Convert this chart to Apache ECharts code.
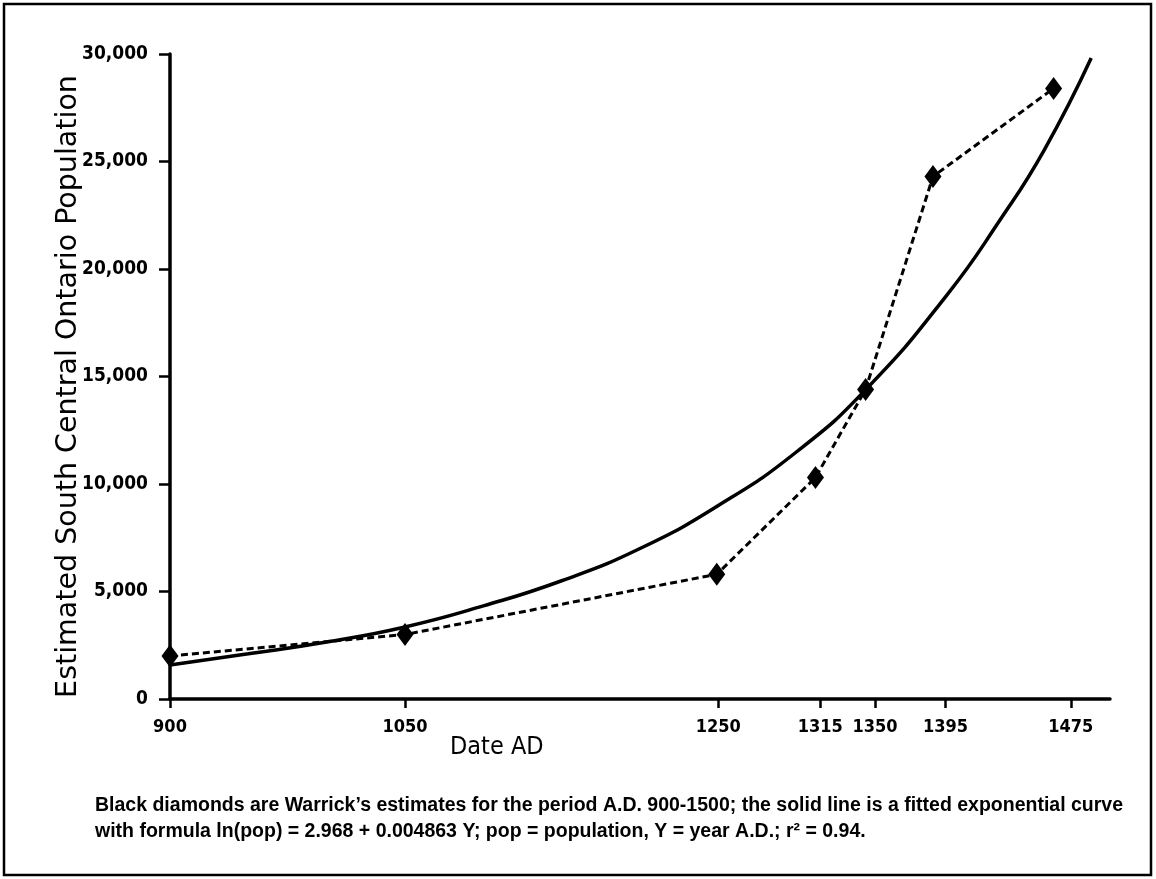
<!DOCTYPE html>
<html><head><meta charset="utf-8">
<script src="https://cdn.jsdelivr.net/npm/echarts@6/dist/echarts.min.js"></script>
<style>html,body{margin:0;padding:0;background:#fff}#c{width:1156px;height:879px}</style>
</head><body><div id="c"></div>
<script>
// Warrick's estimates (black diamonds)
const estimateYears = [900, 1050, 1249, 1312, 1344, 1387, 1464];
const estimatePop = [2000, 3000, 5800, 10300, 14400, 24300, 28400];
// Fitted exponential curve
const fitYears = [900, 950, 1000, 1050, 1100, 1150, 1200, 1250, 1300, 1345, 1396, 1430, 1458, 1488];
const fitPop = [1580, 2100, 2650, 3350, 4330, 5500, 7000, 9000, 11500, 14460, 18800, 22300, 25530, 29810];
// Axis ticks
const xTickValues = [900, 1050, 1250, 1315, 1350, 1395, 1475];
const xMin = 900, xMax = 1500;
const yMin = 0, yMax = 30000, yInterval = 5000;
const xTitle = 'Date AD';
const yTitle = 'Estimated South Central Ontario Population';
const captionLines = [
  'Black diamonds are Warrick\u2019s estimates for the period A.D. 900-1500; the solid line is a fitted exponential curve',
  'with formula ln(pop) = 2.968 + 0.004863 Y; pop = population, Y = year A.D.; r\u00B2 = 0.94.'
];

const condensed = '"DejaVu Sans Condensed", "Liberation Sans", sans-serif';
const chart = echarts.init(document.getElementById('c'), null, {renderer: 'canvas'});
const pair = (xs, ys) => xs.map((x, i) => [x, ys[i]]);
chart.setOption({
  animation: false,
  backgroundColor: '#fff',
  grid: {left: 170, right: 46, top: 54, bottom: 180},
  xAxis: {
    type: 'value', min: xMin, max: xMax,
    axisLine: {show: true, lineStyle: {color: '#000', width: 3.5}},
    axisTick: {show: true, customValues: xTickValues, length: 9, lineStyle: {color: '#000', width: 2.5}},
    axisLabel: {customValues: xTickValues, color: '#000', fontFamily: condensed, fontWeight: 'bold', fontSize: 18, margin: 19,
      formatter: v => String(v)},
    splitLine: {show: false}
  },
  yAxis: {
    type: 'value', min: yMin, max: yMax, interval: yInterval,
    name: yTitle, nameLocation: 'middle', nameRotate: 90, nameGap: 87, nameMoveOverlap: false,
    nameTextStyle: {color: '#000', fontFamily: '"DejaVu Sans", sans-serif', fontSize: 28.5, padding: [0, 20, 0, 0]},
    axisLine: {show: true, lineStyle: {color: '#000', width: 3.5}},
    axisTick: {show: true, length: 11, lineStyle: {color: '#000', width: 2.5}},
    axisLabel: {color: '#000', fontFamily: condensed, fontWeight: 'bold', fontSize: 19, margin: 22,
      formatter: v => v.toLocaleString('en-US')},
    splitLine: {show: false}
  },
  series: [
    {
      type: 'line', data: pair(fitYears, fitPop), smooth: 0.5, showSymbol: false, symbol: 'none',
      lineStyle: {color: '#000', width: 3.5}, z: 2
    },
    {
      type: 'line', data: pair(estimateYears, estimatePop), symbol: 'diamond', symbolSize: [17, 23],
      itemStyle: {color: '#000'}, lineStyle: {color: '#000', width: 3, type: [7, 4]}, z: 3
    }
  ],
  graphic: [
    {type: 'rect', shape: {x: 4, y: 4, width: 1147, height: 871}, style: {fill: 'none', stroke: '#000', lineWidth: 2.5}, silent: true},
    {type: 'text', left: 450, top: 735, style: {text: xTitle, fill: '#000', font: '25px ' + condensed}},
    {type: 'text', left: 95, top: 796, style: {text: captionLines[0], fill: '#000', font: 'bold 19.5px "Liberation Sans", sans-serif'}},
    {type: 'text', left: 95, top: 822, style: {text: captionLines[1], fill: '#000', font: 'bold 19.5px "Liberation Sans", sans-serif'}}
  ]
});
</script></body></html>
